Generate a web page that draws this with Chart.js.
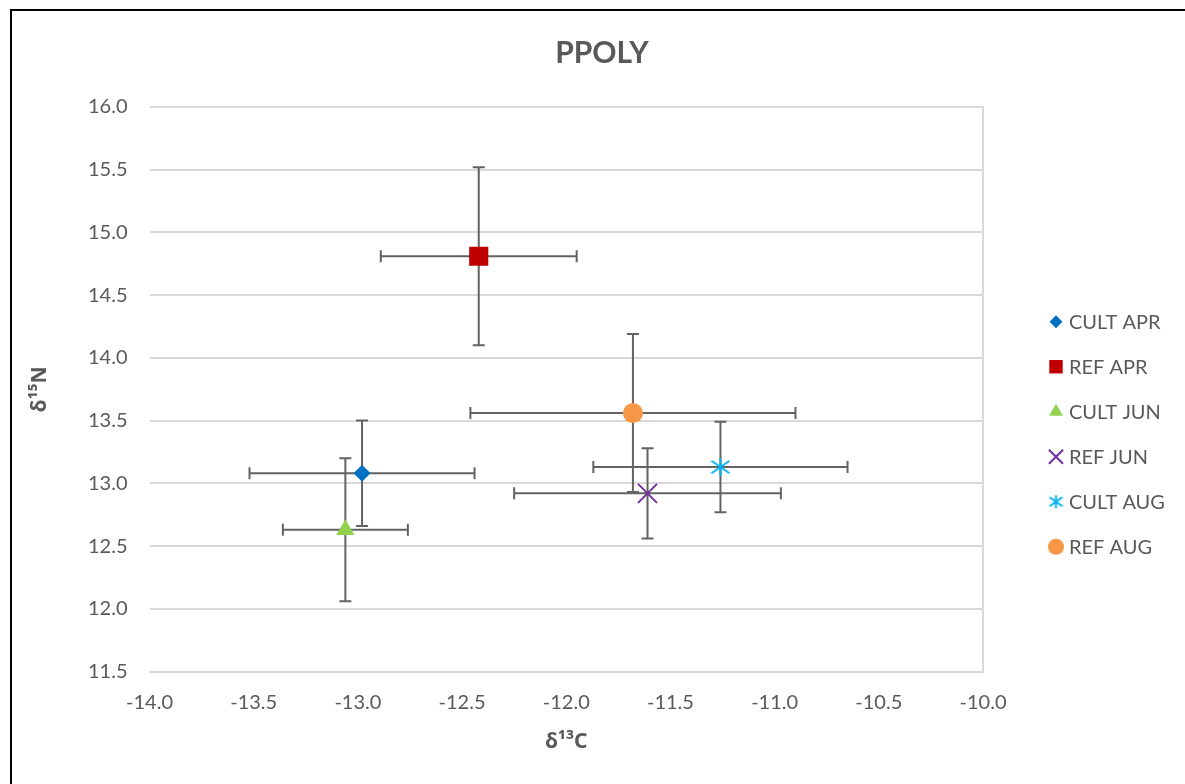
<!DOCTYPE html>
<html>
<head>
<meta charset="utf-8">
<script src="https://cdn.jsdelivr.net/npm/chart.js@4.4.1/dist/chart.umd.min.js"></script>
<style>
  html, body { margin: 0; padding: 0; background: #fff; overflow: hidden; }
  #wrap { position: relative; width: 1185px; height: 784px; }
  #frame { position: absolute; left: 10px; top: 9px; right: -20px; bottom: -20px;
           border-left: 2px solid #000; border-top: 2px solid #000; pointer-events: none; }
</style>
</head>
<body>
<div id="wrap">
  <canvas id="myChart" width="1185" height="784"></canvas>
  <div id="frame"></div>
</div>
<script>
// mean isotope values per group, with standard deviations
const seriesNames = ['CULT APR', 'REF APR', 'CULT JUN', 'REF JUN', 'CULT AUG', 'REF AUG'];
const d13C = [-12.98, -12.42, -13.06, -11.61, -11.26, -11.68];
const d15N = [13.08, 14.81, 12.63, 12.92, 13.13, 13.56];
const d13C_sd = [0.54, 0.47, 0.30, 0.64, 0.61, 0.78];
const d15N_sd = [0.42, 0.71, 0.57, 0.36, 0.36, 0.63];

const xMin = -14.0, xMax = -10.0;
const yMin = 11.5, yMax = 16.0;

const textColor = '#595959';
const gridColor = '#D9D9D9';
const colors = ['#0070C0', '#C00000', '#92D050', '#7030A0', '#00B0F0', '#F79646'];

// Excel-like asterisk marker: vertical stroke plus a flat X
function asterisk(size, color) {
    const c = document.createElement('canvas');
    c.width = size;
    c.height = size;
    const g = c.getContext('2d');
    const m = size / 2, r = size / 2 - 1;
    g.strokeStyle = color;
    g.lineWidth = 2;
    g.beginPath();
    g.moveTo(m, m - r); g.lineTo(m, m + r);
    g.moveTo(m - r, m - r * 0.7); g.lineTo(m + r, m + r * 0.7);
    g.moveTo(m - r, m + r * 0.7); g.lineTo(m + r, m - r * 0.7);
    g.stroke();
    return c;
}

const pointStyles = ['rectRot', 'rect', 'triangle', 'crossRot', asterisk(20, colors[4]), 'circle'];
const legendStyles = ['rectRot', 'rect', 'triangle', 'crossRot', asterisk(15, colors[4]), 'circle'];
const pointRadius = [8.5, 13.5, 10.5, 13.4, 10, 10];
const legendRadius = [6.5, 9.5, 8, 10, 8, 8];

// x and y error bars, drawn under the markers
const errorBars = {
    id: 'errorBars',
    beforeDatasetsDraw(chart) {
        const { ctx, scales: { x, y } } = chart;
        const cap = 6;
        ctx.save();
        ctx.strokeStyle = '#636363';
        ctx.lineWidth = 2;
        d13C.forEach((cx, i) => {
            const px = x.getPixelForValue(cx);
            const py = y.getPixelForValue(d15N[i]);
            const x0 = x.getPixelForValue(cx - d13C_sd[i]);
            const x1 = x.getPixelForValue(cx + d13C_sd[i]);
            const y0 = y.getPixelForValue(d15N[i] + d15N_sd[i]);
            const y1 = y.getPixelForValue(d15N[i] - d15N_sd[i]);
            ctx.beginPath();
            ctx.moveTo(x0, py); ctx.lineTo(x1, py);
            ctx.moveTo(x0, py - cap); ctx.lineTo(x0, py + cap);
            ctx.moveTo(x1, py - cap); ctx.lineTo(x1, py + cap);
            ctx.moveTo(px, y0); ctx.lineTo(px, y1);
            ctx.moveTo(px - cap, y0); ctx.lineTo(px + cap, y0);
            ctx.moveTo(px - cap, y1); ctx.lineTo(px + cap, y1);
            ctx.stroke();
        });
        ctx.restore();
    }
};

// legend to the right of the plot
const sideLegend = {
    id: 'sideLegend',
    afterDraw(chart) {
        const { ctx, chartArea } = chart;
        const mx = chartArea.right + 73;
        const tx = chartArea.right + 86;
        const gap = 45;
        const y0 = (chartArea.top + chartArea.bottom) / 2 + gap - gap * 2.5;
        ctx.save();
        ctx.font = '20px Lato';
        ctx.textAlign = 'left';
        ctx.textBaseline = 'middle';
        chart.data.datasets.forEach((ds, i) => {
            const yy = y0 + i * gap;
            ctx.fillStyle = ds.backgroundColor;
            ctx.strokeStyle = ds.borderColor;
            ctx.lineWidth = ds.pointBorderWidth;
            Chart.helpers.drawPoint(ctx, {
                pointStyle: legendStyles[i],
                radius: legendRadius[i],
                rotation: 0,
                borderWidth: ds.pointBorderWidth
            }, mx, yy);
            ctx.fillStyle = textColor;
            ctx.fillText(ds.label, tx, yy + 1);
        });
        ctx.restore();
    }
};

Chart.defaults.font.family = 'Lato';
Chart.defaults.color = textColor;

const ctx = document.getElementById('myChart').getContext('2d');
const myChart = new Chart(ctx, {
    type: 'scatter',
    data: {
        datasets: seriesNames.map((name, i) => ({
            label: name,
            data: [{ x: d13C[i], y: d15N[i] }],
            pointStyle: pointStyles[i],
            pointRadius: pointRadius[i],
            pointHoverRadius: pointRadius[i],
            backgroundColor: colors[i],
            borderColor: colors[i],
            pointBorderWidth: (i === 3 || i === 4) ? 2 : 0
        }))
    },
    options: {
        responsive: false,
        animation: false,
        layout: { padding: { left: 19, right: 0, top: 0, bottom: 0 } },
        plugins: {
            legend: { display: false },
            tooltip: { enabled: false },
            title: {
                display: true,
                text: 'PPOLY',
                color: textColor,
                font: { size: 30, weight: 'bold' },
                padding: { top: 35, bottom: 36 }
            }
        },
        scales: {
            x: {
                type: 'linear',
                min: xMin,
                max: xMax,
                ticks: {
                    stepSize: 0.5,
                    autoSkip: false,
                    maxRotation: 0,
                    padding: 19,
                    color: textColor,
                    font: { size: 20 },
                    callback: v => v.toFixed(1)
                },
                grid: { display: false, drawTicks: false },
                border: { display: true, color: gridColor, width: 2 },
                title: {
                    display: true,
                    text: 'δ¹³C',
                    color: textColor,
                    font: { family: 'Noto Sans', size: 21, weight: 'bold' },
                    padding: { top: 0, bottom: 29 }
                },
                afterFit(scale) { scale.height = 112.5; }
            },
            y: {
                type: 'linear',
                min: yMin,
                max: yMax,
                ticks: {
                    stepSize: 0.5,
                    padding: 22,
                    color: textColor,
                    font: { size: 20 },
                    callback: v => v.toFixed(1)
                },
                grid: { color: gridColor, lineWidth: 2, drawTicks: false },
                border: { display: false },
                title: {
                    display: true,
                    text: 'δ¹⁵N',
                    color: textColor,
                    font: { family: 'Noto Sans', size: 21, weight: 'bold' },
                    padding: { top: 8, bottom: 0 }
                },
                afterFit(scale) { scale.width = 130.5; }
            },
            // right-hand axis line; its width also leaves room for the legend
            y2: {
                type: 'linear',
                position: 'right',
                min: yMin,
                max: yMax,
                ticks: { display: false },
                grid: { drawOnChartArea: false, drawTicks: false },
                border: { display: true, color: gridColor, width: 2 },
                afterFit(scale) { scale.width = 202; }
            }
        }
    },
    plugins: [errorBars, sideLegend]
});
</script>
</body>
</html>
